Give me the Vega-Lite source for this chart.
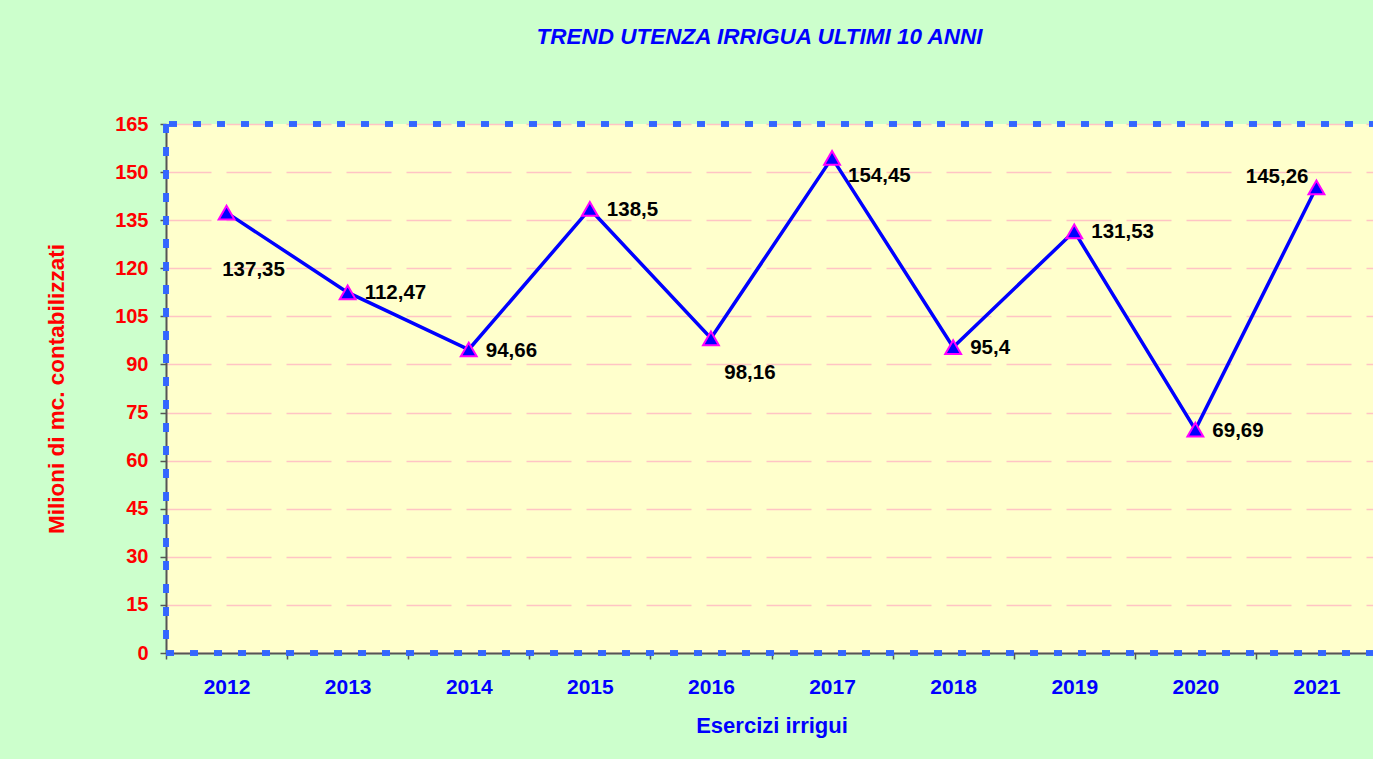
{
  "$schema": "https://vega.github.io/schema/vega-lite/v6.json",
  "autosize": {"type": "none"},
  "padding": {"left": 166, "top": 124, "right": -4, "bottom": 106},
  "width": 1211,
  "height": 529,
  "background": "#CCFFCC",
  "title": {
    "text": "TREND UTENZA IRRIGUA ULTIMI 10 ANNI",
    "font": "Liberation Sans",
    "fontSize": 22.5,
    "fontWeight": "bold",
    "fontStyle": "italic",
    "color": "#0000FF",
    "anchor": "middle",
    "offset": 66,
    "dx": -12
  },
  "data": {
    "values": [
      {"year": "2012", "value": 137.35},
      {"year": "2013", "value": 112.47},
      {"year": "2014", "value": 94.66},
      {"year": "2015", "value": 138.5},
      {"year": "2016", "value": 98.16},
      {"year": "2017", "value": 154.45},
      {"year": "2018", "value": 95.4},
      {"year": "2019", "value": 131.53},
      {"year": "2020", "value": 69.69},
      {"year": "2021", "value": 145.26}
    ]
  },
  "encoding": {
    "x": {
      "field": "year",
      "type": "ordinal",
      "scale": {"type": "band", "paddingInner": 0, "paddingOuter": 0},
      "axis": {
        "title": "Esercizi irrigui",
        "labelAngle": 0,
        "tickBand": "extent",
        "grid": false,
        "domainColor": "#555555",
        "domainWidth": 2,
        "tickColor": "#555555",
        "tickWidth": 1.5,
        "tickSize": 6,
        "labelFont": "Liberation Sans",
        "labelFontSize": 21,
        "labelFontWeight": "bold",
        "labelColor": "#0000FF",
        "labelPadding": 17,
        "titleFont": "Liberation Sans",
        "titleFontSize": 22,
        "titleFontWeight": "bold",
        "titleColor": "#0000FF",
        "titlePadding": 18
      }
    },
    "y": {
      "field": "value",
      "type": "quantitative",
      "scale": {"domain": [0, 165], "nice": false, "zero": true},
      "axis": {
        "title": "Milioni di mc. contabilizzati",
        "values": [0, 15, 30, 45, 60, 75, 90, 105, 120, 135, 150, 165],
        "grid": true,
        "gridColor": "#FFC4C4",
        "gridWidth": 1.5,
        "gridDash": [45, 15],
        "domainColor": "#555555",
        "domainWidth": 2,
        "tickColor": "#555555",
        "tickWidth": 1.5,
        "tickSize": 6,
        "labelFont": "Liberation Sans",
        "labelFontSize": 20,
        "labelFontWeight": "bold",
        "labelColor": "#FF0000",
        "labelPadding": 12,
        "titleFont": "Liberation Sans",
        "titleFontSize": 22.5,
        "titleFontWeight": "bold",
        "titleColor": "#FF0000",
        "titlePadding": 46
      }
    }
  },
  "layer": [
    {
      "mark": {"type": "line", "color": "#0000FF", "strokeWidth": 3.5}
    },
    {
      "mark": {"type": "point", "shape": "triangle-up", "filled": true, "fill": "#0000FF", "stroke": "#FF00FF", "strokeWidth": 2, "size": 250, "opacity": 1}
    },
    {
      "transform": [{"filter": {"field": "year", "oneOf": ["2013", "2014", "2015", "2018", "2019", "2020"]}}],
      "mark": {"type": "text", "align": "left", "baseline": "middle", "dx": 17, "dy": 1, "font": "Liberation Sans", "fontSize": 20.5, "fontWeight": "bold", "color": "#000000"},
      "encoding": {"text": {"field": "value", "type": "quantitative", "format": ".2~f"}}
    },
    {
      "transform": [{"filter": {"field": "year", "equal": "2017"}}],
      "mark": {"type": "text", "align": "left", "baseline": "middle", "dx": 16, "dy": 18, "font": "Liberation Sans", "fontSize": 20.5, "fontWeight": "bold", "color": "#000000"},
      "encoding": {"text": {"field": "value", "type": "quantitative", "format": ".2~f"}}
    },
    {
      "transform": [{"filter": {"field": "year", "equal": "2012"}}],
      "mark": {"type": "text", "align": "center", "baseline": "middle", "dx": 27, "dy": 57, "font": "Liberation Sans", "fontSize": 20.5, "fontWeight": "bold", "color": "#000000"},
      "encoding": {"text": {"field": "value", "type": "quantitative", "format": ".2~f"}}
    },
    {
      "transform": [{"filter": {"field": "year", "equal": "2016"}}],
      "mark": {"type": "text", "align": "center", "baseline": "middle", "dx": 39, "dy": 35, "font": "Liberation Sans", "fontSize": 20.5, "fontWeight": "bold", "color": "#000000"},
      "encoding": {"text": {"field": "value", "type": "quantitative", "format": ".2~f"}}
    },
    {
      "transform": [{"filter": {"field": "year", "equal": "2021"}}],
      "mark": {"type": "text", "align": "right", "baseline": "middle", "dx": -8, "dy": -10, "font": "Liberation Sans", "fontSize": 20.5, "fontWeight": "bold", "color": "#000000"},
      "encoding": {"text": {"field": "value", "type": "quantitative", "format": ".2~f"}}
    },
    {
      "mark": {"type": "rule", "color": "#3366FF", "strokeWidth": 4.5, "strokeDash": [8, 16]},
      "encoding": {"y": {"datum": 165, "type": "quantitative"}, "x": null}
    },
    {
      "mark": {"type": "rule", "color": "#3366FF", "strokeWidth": 4.5, "strokeDash": [8, 16], "strokeDashOffset": -3},
      "encoding": {"y": {"datum": 0, "type": "quantitative"}, "x": null}
    },
    {
      "mark": {"type": "rule", "color": "#3366FF", "strokeWidth": 4.5, "strokeDash": [9, 14]},
      "encoding": {"x": {"datum": "2012", "type": "ordinal", "bandPosition": 0}, "y": null}
    }
  ],
  "config": {
    "view": {"fill": "#FFFFCC", "stroke": null},
    "locale": {"number": {"decimal": ",", "thousands": ".", "grouping": [3], "currency": ["€", ""]}}
  }
}
